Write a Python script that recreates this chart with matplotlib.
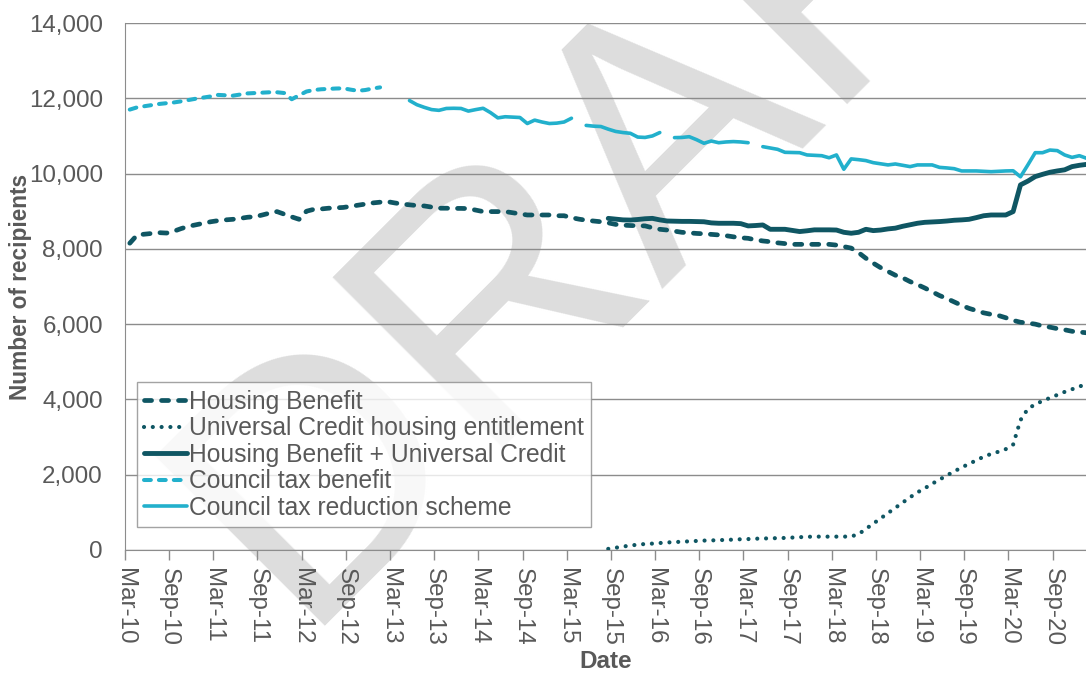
import matplotlib.pyplot as plt
import numpy as np

# months since Mar-10 (monthly data)
n_months = 131

tick_labels = ["Mar-10", "Sep-10", "Mar-11", "Sep-11", "Mar-12", "Sep-12",
               "Mar-13", "Sep-13", "Mar-14", "Sep-14", "Mar-15", "Sep-15",
               "Mar-16", "Sep-16", "Mar-17", "Sep-17", "Mar-18", "Sep-18",
               "Mar-19", "Sep-19", "Mar-20", "Sep-20"]

# Housing Benefit, from Mar-10
hb = [8150, 8370, 8390, 8410, 8430, 8420, 8470, 8540, 8600, 8640,
      8680, 8720, 8750, 8770, 8785, 8810, 8840, 8855, 8900, 8950,
      8990, 8920, 8850, 8785, 9000, 9050, 9060, 9080, 9090, 9100,
      9130, 9160, 9190, 9220, 9240, 9255, 9220, 9190, 9170, 9150,
      9140, 9110, 9080, 9080, 9075, 9075, 9070, 9030, 8990, 8990,
      8990, 8990, 8960, 8930, 8900, 8900, 8900, 8900, 8880, 8880,
      8830, 8790, 8760, 8740, 8720, 8690, 8650, 8630, 8620, 8615,
      8610, 8560, 8520, 8500, 8470, 8440, 8425, 8410, 8400, 8385,
      8370, 8350, 8320, 8295, 8280, 8240, 8210, 8190, 8160, 8140,
      8120, 8120, 8120, 8120, 8120, 8120, 8100, 8060, 8020, 7900,
      7750, 7620, 7500, 7400, 7300, 7230, 7130, 7050, 6960, 6860,
      6760, 6680, 6590, 6500, 6420, 6360, 6300, 6260, 6230, 6170,
      6100, 6050, 6030, 6000, 5950, 5920, 5880, 5850, 5810, 5790,
      5770]

# Universal Credit housing entitlement, from Aug-15
uc_start = 65
uc = [30, 60, 90, 120, 140, 160, 170, 185, 200, 210,
      220, 230, 240, 250, 255, 260, 270, 275, 285, 290,
      300, 305, 310, 315, 320, 330, 340, 350, 355, 355,
      355, 355, 355, 360, 420, 560, 700, 840, 980, 1120,
      1260, 1400, 1530, 1640, 1760, 1870, 1980, 2090, 2190, 2290,
      2380, 2480, 2550, 2610, 2680, 2800, 3450, 3750, 3870, 3960,
      4040, 4120, 4200, 4270, 4340, 4420]

# Housing Benefit + Universal Credit, from Aug-15
hbuc = [8810, 8790, 8770, 8765, 8780, 8800, 8810, 8770, 8740, 8735,
        8730, 8730, 8725, 8720, 8690, 8680, 8680, 8680, 8670, 8610,
        8620, 8635, 8520, 8520, 8520, 8490, 8460, 8480, 8505, 8505,
        8505, 8500, 8440, 8415, 8440, 8520, 8485, 8500, 8530, 8550,
        8600, 8640, 8680, 8705, 8715, 8725, 8740, 8760, 8770, 8785,
        8830, 8880, 8900, 8900, 8900, 8990, 9700, 9800, 9920, 9980,
        10035, 10070, 10100, 10185, 10220, 10245]

# Council tax benefit, Mar-10 to Jan-13
ctb = [11700, 11760, 11790, 11820, 11850, 11870, 11890, 11920, 11955, 11990,
       12020, 12050, 12090, 12080, 12070, 12100, 12130, 12140, 12150, 12160,
       12160, 12140, 11975, 12080, 12180, 12220, 12240, 12250, 12260, 12265,
       12230, 12200, 12220, 12260, 12290]

# Council tax reduction scheme, from May-13 (None = no data)
ctr_start = 38
ctr = [11940, 11830, 11760, 11700, 11680, 11730, 11735, 11730, 11660, 11700,
       11735, 11620, 11480, 11510, 11500, 11490, 11330, 11420, 11370, 11330,
       11340, 11370, 11470, None, 11280, 11260, 11250, 11180, 11120, 11090,
       11070, 10970, 10960, 11000, 11090, None, 10955, 10960, 10980, 10900,
       10805, 10865, 10820, 10840, 10850, 10840, 10820, None, 10715, 10680,
       10645, 10565, 10560, 10555, 10495, 10485, 10475, 10420, 10495, 10115,
       10390, 10370, 10345, 10290, 10260, 10230, 10255, 10220, 10185, 10230,
       10230, 10230, 10165, 10150, 10130, 10070, 10070, 10070, 10060, 10050,
       10060, 10070, 10075, 9915, 10230, 10555, 10555, 10625, 10610, 10495,
       10430, 10475, 10405]


def series(values, start=0):
    out = np.full(n_months, np.nan)
    vals = np.array([np.nan if v is None else v for v in values], dtype=float)
    out[start:start + len(vals)] = vals
    return out


dark = '#0F5663'
light = '#22B0CC'
grey = '#595959'
axis_grey = '#8C8C8C'

plt.rcParams['font.family'] = ['Liberation Sans', 'DejaVu Sans']

fig = plt.figure(figsize=(10.86, 6.75), dpi=100)
ax = fig.add_axes([0.1151, 0.1852, 0.8849, 0.7807])
ax.patch.set_alpha(0)

# DRAFT watermark behind everything
fig.text(0.2726, 0.0726, "DRAFT", rotation=45, rotation_mode='anchor',
         fontsize=252, color='#DDDDDD', ha='left', va='baseline', zorder=-5)

x = np.arange(n_months) + 0.65

ax.plot(x, series(hb), color=dark, lw=3.4, linestyle=(0, (1.5, 2.1)),
        dash_capstyle='round', label='Housing Benefit', zorder=3)
ax.plot(x, series(uc, uc_start), color=dark, lw=3.0, linestyle=(0, (0.01, 2.1)),
        dash_capstyle='round', label='Universal Credit housing entitlement', zorder=3)
ax.plot(x, series(hbuc, uc_start), color=dark, lw=3.5, solid_capstyle='round',
        label='Housing Benefit + Universal Credit', zorder=4)
ax.plot(x, series(ctb), color=light, lw=2.9, linestyle=(0, (1.7, 2.0)),
        dash_capstyle='round', label='Council tax benefit', zorder=3)
ax.plot(x, series(ctr, ctr_start), color=light, lw=2.6, solid_capstyle='round',
        label='Council tax reduction scheme', zorder=3)

ax.set_xlim(0, 130.55)
ax.set_ylim(0, 14000)
ax.set_yticks(np.arange(0, 14001, 2000))
ax.set_yticklabels([f"{v:,}" for v in range(0, 14001, 2000)])
ax.set_xticks(np.arange(0, 6 * len(tick_labels), 6))
ax.set_xticklabels(tick_labels, rotation=-90)

ax.grid(axis='y', color=axis_grey, lw=1.0)
ax.set_axisbelow(True)
for s in ['top', 'right']:
    ax.spines[s].set_visible(False)
ax.spines['left'].set_color(axis_grey)
ax.spines['bottom'].set_color(axis_grey)
ax.tick_params(axis='x', colors=axis_grey, length=7, width=1, labelcolor=grey,
               labelsize=17.4, pad=6)
ax.tick_params(axis='y', colors=axis_grey, length=0, labelcolor=grey,
               labelsize=17.4, pad=16)

ax.set_ylabel("Number of recipients", fontsize=16.3, fontweight='bold',
              color=grey, labelpad=-2)
ax.set_xlabel("Date", fontsize=17.5, fontweight='bold', color=grey, labelpad=3)

leg = ax.legend(loc='lower left', bbox_to_anchor=(0.0125, 0.0436), fontsize=17.7,
                frameon=True, fancybox=False, handlelength=1.75, handletextpad=0.05,
                labelspacing=0.1, borderpad=0.3, labelcolor=grey, borderaxespad=0)
leg.get_frame().set_edgecolor(axis_grey)
leg.get_frame().set_linewidth(1.0)
leg.set_zorder(10)

fig.savefig('out.png', dpi=100)
